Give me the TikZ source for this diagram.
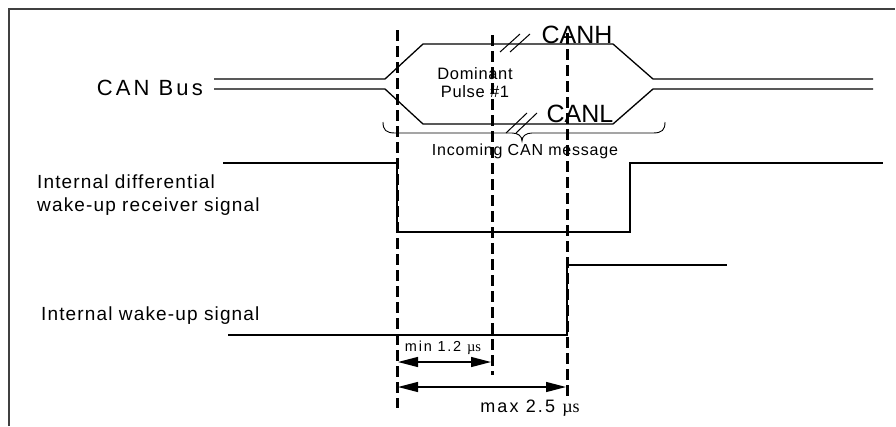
\documentclass[tikz,border=0pt]{standalone}
\usepackage{fontspec}
\setmainfont{Liberation Sans}
\newfontfamily\serifmu{Liberation Serif}
\usetikzlibrary{arrows.meta}
\newcommand{\lsp}[1]{\addfontfeatures{LetterSpace=#1}}
\newcommand{\fsz}[2]{\fontsize{#1}{#2}\selectfont}
\definecolor{framegray}{HTML}{404040}
\begin{document}
\begin{tikzpicture}[x=1pt,y=-1pt,
  sig/.style={line width=1.3pt, black},
  marker/.style={line width=3pt, dash pattern=on 11pt off 5pt},
  dimline/.style={line width=1.3pt, {Triangle[length=20pt,width=10pt]}-{Triangle[length=20pt,width=10pt]}},
  lbl/.style={inner sep=0pt, text=black},
  slash/.style={line width=1pt}]
\useasboundingbox (0,0) rectangle (896,426);
% frame
\draw[framegray, line width=2pt] (8.5,426) -- (8.5,8.5) -- (895,8.5);

% labels
\node[lbl, anchor=east, font={\fsz{22}{24}\lsp{14}}] (canbus) at (203,88) {CAN Bus};
\node[lbl, font={\fsz{25}{28}}] (canh) at (577,35) {CANH};
\node[lbl, font={\fsz{25}{28}}] (canl) at (580,114) {CANL};
\node[lbl, align=center, font={\fsz{16.5}{18}\lsp{4}}] (dom) at (475,83) {Dominant\\ Pulse \#1};
\node[lbl, font={\fsz{16}{18}\lsp{5}}] (incoming) at (525,151) {Incoming CAN message};
\node[lbl, anchor=west, align=left, font={\fsz{19}{23}\lsp{6}}] (diff) at (37,195) {Internal differential\\ wake-up receiver signal};
\node[lbl, anchor=west, font={\fsz{19}{22}\lsp{6}}] (wake) at (41,316) {Internal wake-up signal};
\node[lbl, font={\fsz{14.5}{16}\lsp{12}}] (minlbl) at (443,348) {min 1.2 {\serifmu µs}};
\node[lbl, font={\fsz{18}{20}\lsp{12}}] (maxlbl) at (530,408) {max 2.5 {\serifmu µs}};

% CAN bus lines
\draw[sig] (214,79) -- (385,79) -- (423,44) -- (613,44) -- (653,79) -- (873,79);
\draw[sig] (214,89) -- (385,89) -- (423,124) -- (613,124) -- (653,89) -- (873,89);
% break marks
\draw[slash] (500,52) -- (520,34);
\draw[slash] (510,52) -- (530,34);
\draw[slash] (506,133) -- (527,113);
\draw[slash] (516,133) -- (537,113);

% brace
\draw[line width=0.9pt] (383,122) .. controls (383,130) and (386,133) .. (395,133) -- (512,133)
  .. controls (518,133) and (522,136) .. (522,141)
  .. controls (522,136) and (526,133) .. (532,133) -- (653,133)
  .. controls (662,133) and (665,130) .. (665,122);

% internal differential wake-up receiver signal
\draw[sig] (223,163) -- (397,163) -- (397,232) -- (630,232) -- (630,163) -- (883,163);
% internal wake-up signal
\draw[sig] (228,335) -- (567,335) -- (567,265) -- (727,265);

% markers
\coordinate (m1t) at (397,30);  \coordinate (m1b) at (397,408);
\coordinate (m2t) at (492,35);  \coordinate (m2b) at (492,375);
\coordinate (m3t) at (567,33);  \coordinate (m3b) at (567,397);
\draw[marker] (m1t) -- (m1b);
\draw[marker] (m2t) -- (m2b);
\draw[marker] (m3t) -- (m3b);

% dimension arrows
\coordinate (a1l) at (398,362); \coordinate (a1r) at (491,362);
\coordinate (a2l) at (398,387); \coordinate (a2r) at (566,387);
\draw[dimline] (a1l) -- (a1r);
\draw[dimline] (a2l) -- (a2r);
\end{tikzpicture}
\end{document}
